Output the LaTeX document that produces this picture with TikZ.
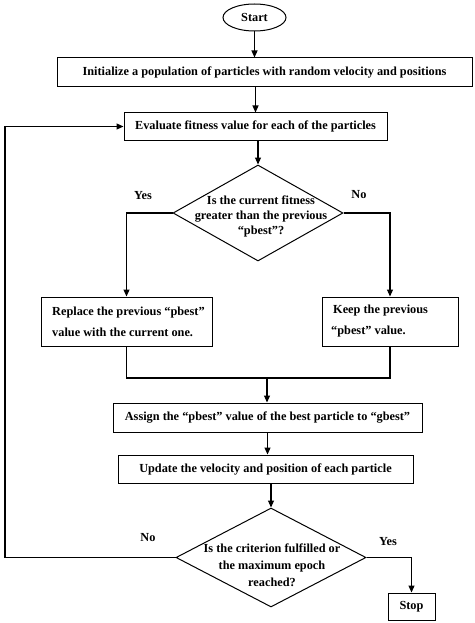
\documentclass[tikz,border=0pt]{standalone}
\usepackage{fontspec}
\setmainfont{Liberation Serif}
\usetikzlibrary{shapes.geometric,arrows.meta}
\begin{document}
\begin{tikzpicture}[x=1pt,y=-1pt,
  txt/.style={font=\bfseries\fontsize{12.3}{14}\selectfont},
  box/.style={draw, line width=1pt, inner sep=0pt, txt},
  dia/.style={draw, diamond, line width=1pt, inner sep=0pt},
  arr/.style={-{Triangle[length=7pt,width=6pt]}, line width=1.1pt},
  ln/.style={line width=1.1pt},
  inner/.style={txt, inner sep=0pt, anchor=west, align=left, font=\bfseries\fontsize{12.3}{21}\selectfont}]
\useasboundingbox (0,0) rectangle (474,623);
\node[box, ellipse, minimum width=63pt, minimum height=27pt] (start) at (254.5,17.5) {Start};
\node[box, minimum width=415pt, minimum height=29pt] (init) at (264.5,72.5) {Initialize a population of particles with random velocity and positions};
\node[box, minimum width=263pt, minimum height=27pt] (eval) at (255.5,126.5) {Evaluate fitness value for each of the particles};
\node[dia, minimum width=170pt, minimum height=96pt] (d1) at (258,213) {};
\node[txt, align=center, font=\bfseries\fontsize{12.3}{15}\selectfont] (d1t) at (261,216) {Is the current fitness\\greater than the previous\\“pbest”?};
\node[box, minimum width=171pt, minimum height=49pt] (rep) at (126.5,321.5) {};
\node[inner] (rept) at (52,321.5) {Replace the previous “pbest”\\value with the current one.};
\node[box, minimum width=136pt, minimum height=49pt] (keep) at (390,321.5) {};
\node[inner] (keept) at (331,321.5) {\hspace*{2pt}Keep the previous\\“pbest” value.};
\coordinate (m) at (267,378);
\node[box, minimum width=309pt, minimum height=29pt] (assign) at (267.5,417.5) {Assign the “pbest” value of the best particle to “gbest”};
\node[box, minimum width=295pt, minimum height=28pt] (update) at (265.5,469) {Update the velocity and position of each particle};
\node[dia, minimum width=190pt, minimum height=99pt] (d2) at (271,557.5) {};
\node[txt, align=center, font=\bfseries\fontsize{12.3}{17}\selectfont] (d2t) at (272,565) {Is the criterion fulfilled or\\the maximum epoch\\reached?};
\node[box, minimum width=47pt, minimum height=27pt] (stop) at (411.5,606.5) {Stop};
\coordinate (lp) at (5,0);
\node[txt] (y1) at (143,196) {Yes};
\node[txt] (n1) at (359,195) {No};
\node[txt] (n2) at (148,538) {No};
\node[txt] (y2) at (388,542) {Yes};
\draw[arr] (start.south) -- (start.south |- init.north);
\draw[arr] (init.south -| eval.north) -- (eval.north);
\draw[arr] (eval.south -| d1.north) -- (d1.north);
\draw[arr] (d1.west) -| (rep.north);
\draw[arr] (d1.east) -| (keep.north);
\draw[ln] (rep.south) |- (m) -| (keep.south);
\draw[arr] (m) -- (m |- assign.north);
\draw[arr] (assign.south) -- (assign.south |- update.north);
\draw[arr] (update.south -| d2.north) -- (d2.north);
\draw[arr] (d2.west) -- (d2.west -| lp) |- (eval.west);
\draw[arr] (d2.east) -| (stop.north);
\end{tikzpicture}
\end{document}
